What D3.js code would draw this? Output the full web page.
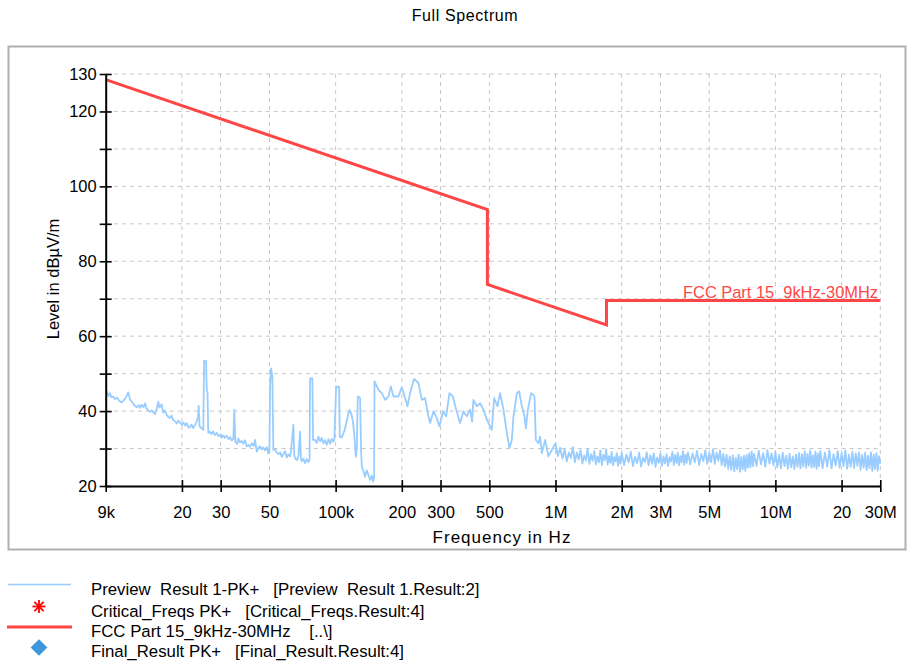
<!DOCTYPE html>
<html><head><meta charset="utf-8">
<script src="https://cdn.jsdelivr.net/npm/d3@7"></script>
<style>
body{margin:0;background:#fff}
text{font-family:"Liberation Sans",Arial,Helvetica,sans-serif}
</style>
</head><body>
<script>
// ---------- data ----------
const chartTitle = "Full Spectrum";
const xAxisTitle = "Frequency in Hz";
const yAxisTitle = "Level in dBµV/m";

const yTicks = [20, 30, 40, 50, 60, 70, 80, 90, 100, 110, 120, 130];
const yTickLabelled = [20, 40, 60, 80, 100, 120, 130];

const xTicks = [9e3, 2e4, 3e4, 5e4, 1e5, 2e5, 3e5, 5e5, 1e6, 2e6, 3e6, 5e6, 1e7, 2e7, 3e7];
const xTickLabels = ["9k", "20", "30", "50", "100k", "200", "300", "500", "1M", "2M", "3M", "5M", "10M", "20", "30M"];

// FCC Part 15 limit (Hz, dBµV/m)
const limitFreqs = [9e3, 490e3, 490e3, 1.705e6, 1.705e6, 30e6];
const limitLevels = [128.5, 93.8, 73.8, 63.0, 69.5, 69.5];
const limitLabel = "FCC Part 15_9kHz-30MHz";

// Preview trace, low band: [kHz, dBµV/m]
const previewLowKHz = [
[9,44.6],[9.12,45.2],[9.26,44.0],[9.41,44.8],[9.55,43.7],[9.71,43.9],[9.92,43.2],[10.13,43.6],[10.35,42.8],[10.64,42.3],
[10.9,43.0],[11.13,43.7],[11.4,45.0],[11.6,43.2],[11.82,42.5],[12.04,41.9],[12.2,41.4],[12.49,41.0],[12.69,41.6],[12.9,40.9],
[13.12,41.7],[13.37,41.0],[13.6,42.1],[13.8,40.7],[14.01,40.3],[14.3,39.8],[14.57,40.2],[14.85,39.6],[15.1,39.2],[15.35,40.5],
[15.61,42.5],[15.81,41.0],[16.18,41.8],[16.41,39.6],[16.7,40.2],[17.06,39.0],[17.38,38.4],[17.6,38.1],[17.93,38.8],[18.22,37.6],
[18.6,37.3],[18.94,36.7],[19.3,37.5],[19.6,36.9],[20,36.3],[20.33,37.0],[20.7,36.1],[21.02,36.8],[21.43,35.6],[21.8,35.8],
[22.11,36.4],[22.46,35.5],[22.9,36.2],[23.35,37.2],[23.67,38.5],[23.84,41.4],[24.05,36.0],[24.56,35.4],[25.02,35.0],[25.21,53.5],
[25.74,53.3],[25.93,45.6],[26.14,45.0],[26.34,34.2],[26.8,34.5],[27.26,33.8],[27.7,34.6],[28.3,33.6],[28.79,34.2],[29.34,33.3],
[30,33.8],[30.43,33.0],[30.91,33.5],[31.4,32.8],[31.97,33.4],[32.58,32.5],[33.1,33.0],[33.68,32.2],[34.25,32.6],[34.61,40.3],
[34.97,31.8],[35.6,31.2],[36.1,32.7],[36.7,31.6],[37.4,32.0],[38.04,31.3],[38.7,32.2],[39.42,30.6],[40.09,31.0],[40.8,30.5],
[41.54,31.4],[42.33,30.7],[43.0,32.3],[43.77,29.2],[44.51,30.2],[45.3,30.6],[46.12,29.8],[46.91,30.3],[47.8,29.5],[48.62,30.4],
[49.45,28.7],[50,29.2],[50.33,46.5],[50.84,51.4],[51.55,49.2],[52.09,29.6],[53,29.8],[53.98,28.9],[54.9,28.5],[55.9,29.0],
[56.88,27.8],[57.96,28.6],[58.9,29.3],[59.94,27.6],[60.96,28.4],[62,27.9],[62.69,29.4],[64.22,36.3],[64.84,28.2],[65.4,27.5],
[66.56,26.9],[67.7,27.8],[68.9,34.5],[69.48,27.4],[70.14,26.6],[71.33,27.3],[72.6,26.1],[73.91,27.2],[75.16,26.4],[76.11,27.0],
[76.5,48.7],[78.39,48.7],[78.96,32.3],[80.6,32.3],[82.08,31.5],[83.46,33.2],[85,31.9],[86.49,32.8],[87.95,31.4],[89.5,32.2],
[91.16,31.0],[92.69,32.5],[94.4,31.3],[96.03,32.6],[97.65,31.8],[98.67,32.5],[100.5,46.5],[103.7,46.5],[104.4,33.2],[106.6,33.0],
[108.5,34.1],[110,35.0],[112.4,37.5],[114.3,39.4],[116,40.3],[118.2,39.0],[119.2,38.0],[120.7,35.5],[121.7,33.2],[123.5,27.8],
[124.8,30.0],[126.1,43.9],[129.2,43.5],[130.6,29.0],[131.6,25.2],[133.8,24.0],[136,22.5],[138.6,24.2],[140.9,23.0],[143.5,21.6],
[146,22.8],[148.1,21.2],[149.6,22.4],[150.3,47.9],[156.5,45.7],[162.2,44.8],[168,43.0],[173.8,43.9],[178.2,46.6],[183.2,43.9],
[193,43.9],[200,46.4],[207,43.5],[212.1,41.3],[218,44.8],[227.4,48.6],[237.9,47.5],[246.7,43.0],[255,43.5],[264.3,38.6],
[269,36.8],[278.4,39.9],[286.4,38.6],[296.5,35.9],[307.3,39.9],[318.1,38.6],[329.3,44.8],[341.2,43.9],[353.3,40.4],[368,36.8],
[381.3,39.9],[395,38.6],[409,40.4],[417.5,37.2],[423.3,43.0],[438.7,41.3],[454,42.1],[470.2,40.4],[487.2,37.7],[513.3,35.0],
[525.9,43.5],[544.4,41.3],[560,44.8],[579.7,40.4],[600.8,34.1],[617.3,30.1],[633,32.3],[643.7,38.6],[667.2,44.8],[683.4,45.3],
[703,41.3],[722.5,38.6],[733.1,35.4],[748.6,40.4],[774.9,44.8],[791.1,44.4],[802.2,43.9],[813.9,32.3],[836.3,31.4],[851,33.2],
[866.7,28.8],[897,32.3],[928.4,27.9],[962.3,29.6]
];

// Preview trace, high band: [MHz, dBµV/m]
const previewHighMHz = [
[1.000,31.4],[1.025,28.0],[1.050,30.2],[1.075,27.3],[1.100,29.8],[1.125,26.6],[1.150,28.9],[1.175,27.5],[1.200,30.4],[1.225,26.4],
[1.250,29.0],[1.275,27.1],[1.300,29.6],[1.325,26.0],[1.350,28.2],[1.375,26.8],[1.400,29.9],[1.425,25.9],[1.450,28.5],[1.475,26.7],
[1.500,29.3],[1.525,25.8],[1.550,27.9],[1.575,26.3],[1.600,29.5],[1.625,25.6],[1.650,28.3],[1.675,26.9],[1.700,29.7],[1.725,25.7],
[1.750,28.0],[1.775,26.2],[1.800,29.1],[1.825,25.5],[1.850,27.7],[1.875,26.6],[1.900,28.8],[1.925,25.4],[1.950,27.9],[1.975,26.0],
[2.00,28.9],[2.05,25.6],[2.10,28.4],[2.15,26.3],[2.20,29.2],[2.25,25.3],[2.30,27.8],[2.35,26.1],[2.40,28.9],[2.45,25.2],
[2.50,27.5],[2.55,26.4],[2.60,29.0],[2.65,25.5],[2.70,28.2],[2.75,25.9],[2.80,28.7],[2.85,25.1],[2.90,27.6],[2.95,26.2],
[3.00,28.8],[3.05,25.4],[3.10,27.9],[3.15,26.0],[3.20,28.5],[3.25,25.3],[3.30,27.7],[3.35,26.5],[3.40,29.1],[3.45,25.6],
[3.50,28.3],[3.55,26.1],[3.60,28.9],[3.65,25.5],[3.70,28.0],[3.75,26.4],[3.80,29.3],[3.85,25.7],[3.90,28.4],[3.95,26.2],
[4.0,29.0],[4.1,25.8],[4.2,28.7],[4.3,26.3],[4.4,29.4],[4.5,25.6],[4.6,28.5],[4.7,26.6],[4.8,29.6],[4.9,25.9],
[5.0,28.8],[5.1,26.4],[5.2,29.8],[5.3,25.9],[5.4,28.9],[5.5,26.7],[5.6,29.5],[5.7,25.5],[5.8,28.6],[5.9,25.2],
[6.0,28.3],[6.1,24.6],[6.2,27.9],[6.3,24.3],[6.4,28.2],[6.5,23.9],[6.6,27.6],[6.7,24.5],[6.8,28.4],[6.9,23.8],
[7.0,27.8],[7.1,24.4],[7.2,28.1],[7.3,24.0],[7.4,28.3],[7.5,24.9],[7.6,28.7],[7.7,25.0],[7.8,29.2],[7.9,25.3],
[8.0,28.6],[8.2,25.4],[8.4,29.4],[8.6,25.8],[8.8,28.8],[9.0,25.2],[9.2,29.6],[9.4,26.0],[9.6,28.7],[9.8,25.5],
[10.0,29.1],[10.2,25.0],[10.4,28.3],[10.6,24.7],[10.8,28.9],[11.0,25.3],[11.2,28.1],[11.4,24.6],[11.6,28.6],[11.8,25.0],
[12.0,27.9],[12.2,24.5],[12.4,28.4],[12.6,25.1],[12.8,28.8],[13.0,24.7],[13.2,28.5],[13.4,25.2],[13.6,29.3],[13.8,24.8],
[14.0,28.6],[14.2,25.4],[14.4,29.5],[14.6,24.9],[14.8,28.2],[15.0,25.1],[15.2,29.2],[15.4,24.6],[15.6,28.7],[15.8,25.3],
[16.0,29.4],[16.4,24.8],[16.8,28.9],[17.2,25.2],[17.6,29.6],[18.0,24.7],[18.4,28.5],[18.8,25.5],[19.2,29.3],[19.6,24.9],
[20.0,28.8],[20.4,25.3],[20.8,29.5],[21.2,24.6],[21.6,28.4],[22.0,25.1],[22.4,29.2],[22.8,24.8],[23.2,28.7],[23.6,25.4],
[24.0,29.0],[24.4,24.3],[24.8,28.3],[25.2,24.9],[25.6,28.9],[26.0,24.2],[26.4,28.1],[26.8,24.7],[27.2,29.0],[27.6,24.0],
[28.0,28.4],[28.4,24.5],[28.8,28.8],[29.2,24.1],[29.6,28.0],[30.0,26.0]
];

const legendLabels = [
  "Preview  Result 1-PK+   [Preview  Result 1.Result:2]",
  "Critical_Freqs PK+   [Critical_Freqs.Result:4]",
  "FCC Part 15_9kHz-30MHz    [..\\]",
  "Final_Result PK+   [Final_Result.Result:4]"
];

// ---------- chart ----------
const W = 907, H = 664;
const traceColor = "#99ccff", limitColor = "#ff4646";
const svg = d3.select("body").append("svg").attr("width", W).attr("height", H);

svg.append("text").attr("x", 465).attr("y", 21).attr("text-anchor", "middle")
  .attr("font-size", 16).attr("letter-spacing", 0.6).text(chartTitle);

svg.append("rect").attr("x", 8.5).attr("y", 46.5).attr("width", 897).attr("height", 503)
  .attr("fill", "none").attr("stroke", "#b0b0b0").attr("stroke-width", 2);

const x = d3.scaleLog().domain([9e3, 30e6]).range([105.7, 880.3]);
const y = d3.scaleLinear().domain([20, 130]).range([486, 74]);

// grid
const grid = svg.append("g").attr("stroke", "#c6c6c6").attr("stroke-dasharray", "4,4").attr("stroke-width", 1);
grid.selectAll("line.h").data(yTicks.filter(d => d > 20)).join("line")
  .attr("x1", x(9e3)).attr("x2", x(30e6)).attr("y1", d => y(d)).attr("y2", d => y(d));
grid.selectAll("line.v").data(xTicks.filter(d => d > 9e3)).join("line")
  .attr("x1", d => x(d)).attr("x2", d => x(d)).attr("y1", y(20)).attr("y2", y(130));

// preview trace
const trace = previewLowKHz.map(d => [d[0] * 1e3, d[1]])
  .concat(previewHighMHz.map(d => [d[0] * 1e6, d[1]]));
const line = d3.line().x(d => x(d[0])).y(d => y(d[1]));
svg.append("path").datum(trace).attr("d", line).attr("fill", "none")
  .attr("stroke", traceColor).attr("stroke-width", 1.8).attr("stroke-linejoin", "round");

// limit line
const limit = limitFreqs.map((f, i) => [f, limitLevels[i]]);
svg.append("path").datum(limit).attr("d", line).attr("fill", "none")
  .attr("stroke", limitColor).attr("stroke-width", 3);
svg.append("text").attr("x", 878).attr("y", 298).attr("text-anchor", "end")
  .attr("font-size", 16.4).attr("fill", limitColor).text(limitLabel);

// axes
function styleAxis(g) {
  g.select(".domain").attr("stroke", "#000").attr("stroke-width", 2);
  g.selectAll(".tick line").attr("stroke", "#000").attr("stroke-width", 1.6);
  g.selectAll(".tick text").attr("fill", "#000").attr("font-size", 16.5)
    .attr("font-family", '"Liberation Sans",Arial,sans-serif');
}
const yAx = svg.append("g").attr("transform", `translate(${x(9e3)},0)`)
  .call(d3.axisLeft(y).tickValues(yTicks).tickSizeInner(6).tickSizeOuter(0).tickPadding(3)
    .tickFormat(d => yTickLabelled.includes(d) ? String(d) : ""));
styleAxis(yAx);
const yAx2 = svg.append("g").attr("transform", `translate(${x(9e3)},0)`)
  .call(d3.axisRight(y).tickValues(yTicks).tickSizeInner(6).tickSizeOuter(0).tickFormat(""));
yAx2.select(".domain").remove();
styleAxis(yAx2);

const xAx = svg.append("g").attr("transform", `translate(0,${y(20)})`)
  .call(d3.axisBottom(x).tickValues(xTicks).tickSizeInner(6).tickSizeOuter(0).tickPadding(14)
    .tickFormat(d => xTickLabels[xTicks.indexOf(d)]));
styleAxis(xAx);
const xAx2 = svg.append("g").attr("transform", `translate(0,${y(20)})`)
  .call(d3.axisTop(x).tickValues(xTicks).tickSizeInner(6).tickSizeOuter(0).tickFormat(""));
xAx2.select(".domain").remove();
styleAxis(xAx2);

// axis titles
svg.append("text").attr("x", 502).attr("y", 543).attr("text-anchor", "middle")
  .attr("font-size", 17).attr("letter-spacing", 1).text(xAxisTitle);
svg.append("text").attr("transform", "translate(59,279) rotate(-90)").attr("text-anchor", "middle")
  .attr("font-size", 16.5).text(yAxisTitle);

// legend
const rowsY = [595, 616.5, 636.5, 656.5];
const lg = svg.append("g");
lg.selectAll("text").data(legendLabels).join("text")
  .attr("x", 91).attr("y", (d, i) => rowsY[i]).attr("font-size", 16.8)
  .style("white-space", "pre").attr("xml:space", "preserve").text(d => d);
lg.append("line").attr("x1", 8).attr("x2", 71).attr("y1", 584.5).attr("y2", 584.5)
  .attr("stroke", traceColor).attr("stroke-width", 1.5);
// asterisk marker (4 strokes)
const ast = lg.append("g").attr("transform", "translate(39,606.5)")
  .attr("stroke", "#ff0000").attr("stroke-width", 1.8);
[0, 45, 90, 135].forEach(a => {
  const r = 6.5, t = a * Math.PI / 180;
  ast.append("line").attr("x1", -r * Math.cos(t)).attr("y1", -r * Math.sin(t))
    .attr("x2", r * Math.cos(t)).attr("y2", r * Math.sin(t));
});
lg.append("line").attr("x1", 7).attr("x2", 72).attr("y1", 627).attr("y2", 627)
  .attr("stroke", limitColor).attr("stroke-width", 3.2);
lg.append("path").attr("transform", "translate(39,647.5) rotate(45)")
  .attr("d", d3.symbol(d3.symbolSquare, 140)()).attr("fill", "#3f97db");
</script>
</body></html>
